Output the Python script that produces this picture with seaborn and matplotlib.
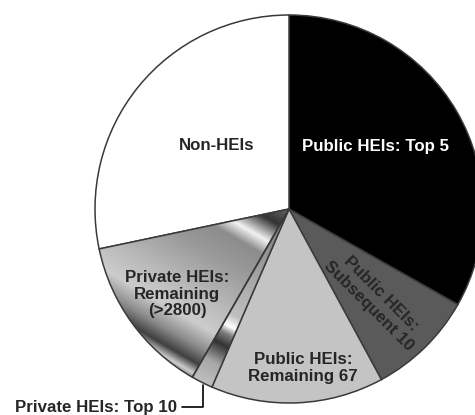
import numpy as np
import matplotlib
matplotlib.use("Agg")
import matplotlib.pyplot as plt
import seaborn as sns

# shares of the pie (percent)
labels = ["Public HEIs: Top 5", "Public HEIs:\nSubsequent 10", "Public HEIs:\nRemaining 67",
          "Private HEIs: Top 10", "Private HEIs:\nRemaining\n(>2800)", "Non-HEIs"]
shares = [33.2, 8.9, 14.4, 1.8, 13.4, 28.3]
colors = ["#000000", "#5a5a5a", "#c4c4c4", "#a8a8a8", "#b8b8b8", "#ffffff"]

sns.set_style("white")
plt.rcParams['font.family'] = ['Liberation Sans', 'DejaVu Sans']

fig = plt.figure(figsize=(4.75, 4.15), dpi=100)
ax = fig.add_axes([0, 0, 1, 1])

cx, cy, r = 289, 206, 194
wedges, _ = ax.pie(shares, colors=colors, startangle=90, counterclock=False,
                   center=(cx, cy), radius=r,
                   wedgeprops=dict(edgecolor="#3a3a3a", linewidth=1.1))

# metallic shading for the two private wedges
yy, xx = np.mgrid[cy - r:cy + r:500j, cx - r:cx + r:500j]
def shade(wedge, angle, stops, vals):
    a = np.deg2rad(angle)
    t = ((xx - cx) * np.cos(a) + (yy - cy) * np.sin(a)) / r
    img = np.interp(t, stops, vals)
    im = ax.imshow(img, cmap="gray", vmin=0, vmax=1, origin="lower",
                   extent=(cx - r, cx + r, cy - r, cy + r), zorder=1.5,
                   interpolation="bilinear")
    im.set_clip_path(wedge)
    wedge.set_facecolor("none")
    wedge.set_zorder(2)

shade(wedges[4], -120,
      [0, 0.1, 0.2, 0.27, 0.4, 0.6, 0.75, 0.85, 0.93, 0.98, 1.03],
      [0.4, 0.2, 0.95, 0.55, 0.6, 0.72, 0.8, 0.55, 0.25, 0.8, 0.35])
shade(wedges[3], -118,
      [0, 0.4, 0.62, 0.68, 0.72, 0.78, 0.88, 1.0],
      [0.45, 0.65, 0.75, 1.0, 0.5, 0.2, 0.65, 0.75])

ax.set_xlim(0, 475)
ax.set_ylim(0, 415)
ax.set_aspect("equal")
ax.axis("off")

fs = 12.2
kw = dict(fontsize=fs, fontweight="bold", ha="center", va="center", zorder=5)
ax.text(375, 269, labels[0], color="white", **kw)
ax.text(375, 115, labels[1], rotation=-45, linespacing=1.15, **kw)
ax.text(303, 47, labels[2], linespacing=1.15, **kw)
ax.text(177, 121, labels[4], linespacing=1.15, **kw)
ax.text(217, 269, labels[5], **kw)
ax.annotate(labels[3], xy=(203, 30), xytext=(177, 8), fontsize=fs, fontweight="bold",
            ha="right", va="center",
            arrowprops=dict(arrowstyle="-", color="black", lw=1.2, shrinkA=1, shrinkB=0,
                            connectionstyle="angle,angleA=0,angleB=90,rad=0"))

fig.savefig("out.png", dpi=100)
